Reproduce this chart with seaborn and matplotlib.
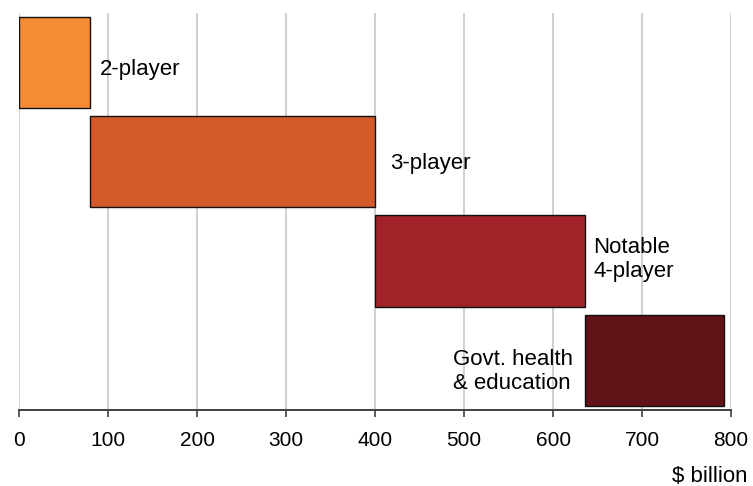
import matplotlib
matplotlib.use("Agg")
import matplotlib.pyplot as plt
import seaborn as sns
import pandas as pd

# Data
categories = ["2-player", "3-player", "Notable\n4-player", "Govt. health\n& education"]
starts = [0, 80, 400, 636]
values = [80, 320, 236, 156]
colors = ["#F58B33", "#D55A2B", "#A0232A", "#601216"]
x_ticks = [0, 100, 200, 300, 400, 500, 600, 700, 800]
x_label = "$ billion"

sns.set_theme(style="white")
plt.rcParams["font.family"] = ["Liberation Sans", "DejaVu Sans"]
plt.rcParams["text.color"] = "black"

df = pd.DataFrame({"cat": categories, "val": values, "start": starts})

fig = plt.figure(figsize=(7.53, 4.86), dpi=100)
ax = fig.add_axes([0.0256, 0.1564, 0.9452, 0.8176])

sns.barplot(data=df, x="val", y="cat", hue="cat", palette=colors, orient="h",
            width=0.92, edgecolor="#111111", linewidth=1.0, legend=False,
            saturation=1, ax=ax, zorder=3)

for patch, s in zip(ax.patches, starts):
    patch.set_x(s)

ax.set_xlim(0, 800)
ax.set_ylim(3.5, -0.5)
ax.set_xticks(x_ticks)
ax.set_xticklabels([str(t) for t in x_ticks], fontsize=15, color="black")
ax.set_yticks([])
ax.set_xlabel("")
ax.set_ylabel("")
ax.grid(axis="x", color="#C8C8C8", linewidth=1.2, zorder=0)
ax.grid(axis="y", visible=False)
for side in ["top", "right", "left"]:
    ax.spines[side].set_visible(False)
ax.spines["bottom"].set_color("#404040")
ax.spines["bottom"].set_linewidth(1.4)
ax.tick_params(axis="x", bottom=True, length=5, width=1.2, color="#404040", pad=10)

fs = 16
# Labels
ax.annotate(categories[0], xy=(starts[0] + values[0], 0), xytext=(7, -5),
            textcoords="offset points", ha="left", va="center", fontsize=fs)
ax.annotate(categories[1], xy=(starts[1] + values[1], 1), xytext=(11, -1),
            textcoords="offset points", ha="left", va="center", fontsize=fs)
ax.annotate(categories[2], xy=(starts[2] + values[2], 2), xytext=(6, 1),
            textcoords="offset points", ha="left", va="center", fontsize=fs,
            linespacing=1.15, multialignment="left")
ax.annotate(categories[3], xy=(starts[3], 3), xytext=(-9, -8),
            textcoords="offset points", ha="right", va="center", fontsize=fs,
            linespacing=1.15, multialignment="left")

fig.text(747 / 753, 1 - 476 / 486, x_label, ha="right", va="center", fontsize=fs)

fig.savefig("out.png", dpi=100)
